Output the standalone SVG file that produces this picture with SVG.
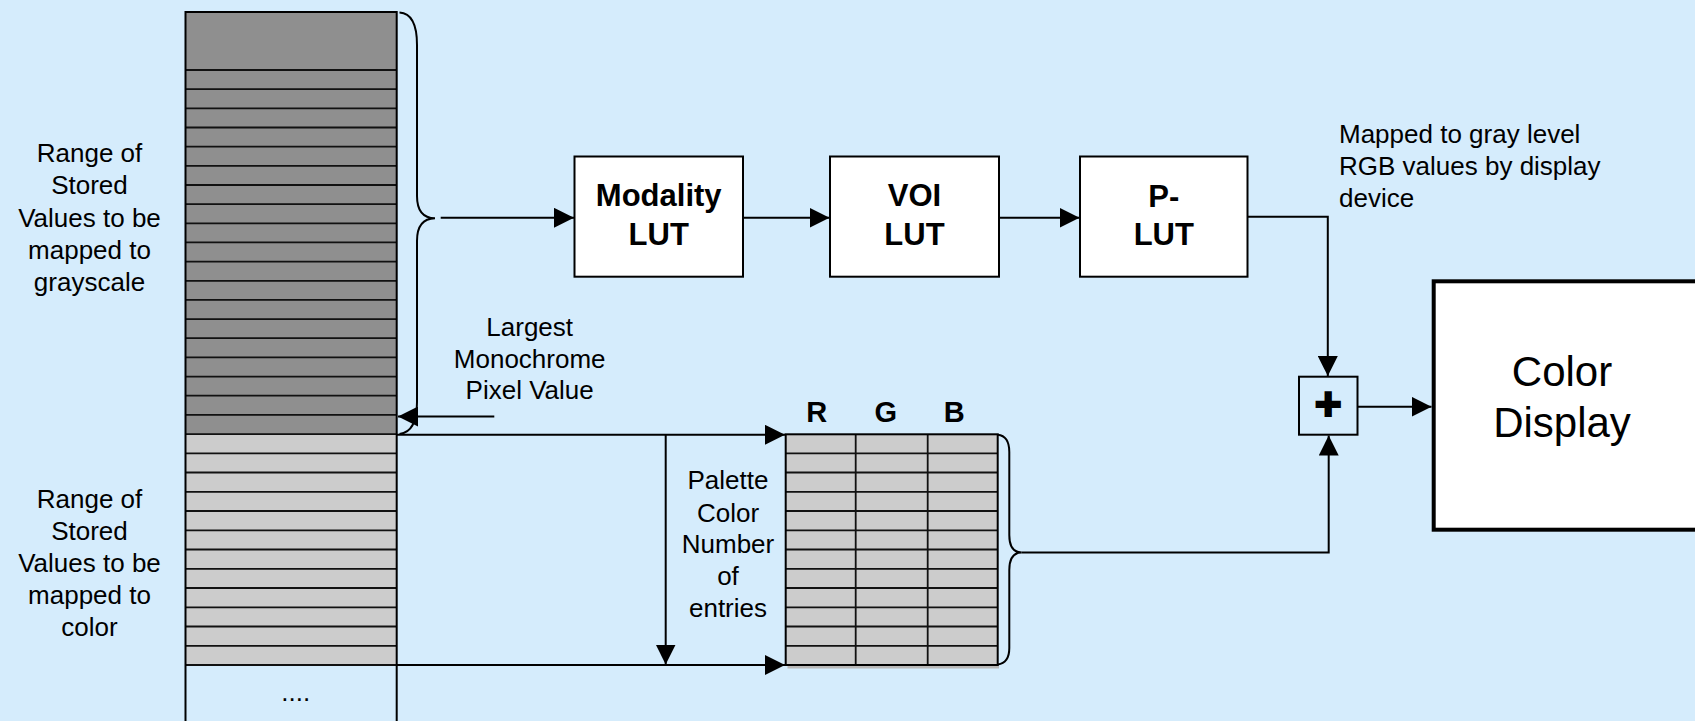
<svg xmlns="http://www.w3.org/2000/svg" width="1695" height="721" viewBox="0 0 1695 721">
<defs>
<style>
.t{font-family:"Liberation Sans",Arial,sans-serif;font-size:26px;fill:#000;text-anchor:middle}
.b{font-family:"Liberation Sans",Arial,sans-serif;font-size:31px;font-weight:bold;fill:#000;text-anchor:middle}
.box{fill:#fff;stroke:#000;stroke-width:2}
.ln{fill:none;stroke:#000;stroke-width:2}
.rl{fill:none;stroke:#111;stroke-width:1.8}
</style>
<marker id="ah" markerUnits="userSpaceOnUse" markerWidth="20" markerHeight="20" refX="20" refY="10" orient="auto">
<path d="M0,0 L20,10 L0,20 Z" fill="#000"/>
</marker>
</defs>
<rect x="0" y="0" width="1695" height="721" fill="#D5ECFC"/>

<g id="stored-values-column">
<rect x="185.5" y="12" width="211.2" height="422" fill="#8f8f8f"/>
<rect x="185.5" y="434" width="211.2" height="231" fill="#cccccc"/>
<path class="rl" d="M185.5,70H396.7M185.5,89.2H396.7M185.5,108.3H396.7M185.5,127.5H396.7M185.5,146.6H396.7M185.5,165.8H396.7M185.5,185H396.7M185.5,204.1H396.7M185.5,223.3H396.7M185.5,242.4H396.7M185.5,261.6H396.7M185.5,280.8H396.7M185.5,299.9H396.7M185.5,319.1H396.7M185.5,338.2H396.7M185.5,357.4H396.7M185.5,376.6H396.7M185.5,395.7H396.7M185.5,414.9H396.7M185.5,434.2H396.7M185.5,453.3H396.7M185.5,472.5H396.7M185.5,491.8H396.7M185.5,511H396.7M185.5,530.3H396.7M185.5,549.5H396.7M185.5,568.8H396.7M185.5,588H396.7M185.5,607.3H396.7M185.5,626.5H396.7M185.5,645.8H396.7M185.5,665H396.7"/>
<path class="ln" d="M185.5,721V12H396.7V721"/>
<text class="t" x="295.7" y="701">....</text>
</g>

<g id="label-grayscale">
<text class="t" x="89.5" y="162.3">Range of</text>
<text class="t" x="89.5" y="194.3">Stored</text>
<text class="t" x="89.5" y="226.5">Values to be</text>
<text class="t" x="89.5" y="258.7">mapped to</text>
<text class="t" x="89.5" y="290.5">grayscale</text>
</g>

<g id="label-color">
<text class="t" x="89.5" y="508.3">Range of</text>
<text class="t" x="89.5" y="540.2">Stored</text>
<text class="t" x="89.5" y="572.3">Values to be</text>
<text class="t" x="89.5" y="604.3">mapped to</text>
<text class="t" x="89.5" y="636">color</text>
</g>

<g id="label-largest">
<text class="t" x="529.7" y="335.7">Largest</text>
<text class="t" x="529.7" y="367.7">Monochrome</text>
<text class="t" x="529.7" y="399.3">Pixel Value</text>
</g>

<g id="modality-lut">
<rect class="box" x="574.5" y="156.5" width="168.5" height="120.2"/>
<text class="b" x="658.7" y="206">Modality</text>
<text class="b" x="658.7" y="244.5">LUT</text>
</g>

<g id="voi-lut">
<rect class="box" x="830" y="156.5" width="169" height="120.2"/>
<text class="b" x="914.5" y="206">VOI</text>
<text class="b" x="914.5" y="244.5">LUT</text>
</g>

<g id="p-lut">
<rect class="box" x="1080" y="156.5" width="167.5" height="120.2"/>
<text class="b" x="1163.8" y="206.5">P-</text>
<text class="b" x="1163.8" y="245">LUT</text>
</g>

<g id="label-mapped">
<text class="t" x="1339" y="143.3" style="text-anchor:start">Mapped to gray level</text>
<text class="t" x="1339" y="175" style="text-anchor:start">RGB values by display</text>
<text class="t" x="1339" y="206.7" style="text-anchor:start">device</text>
</g>

<g id="palette-table">
<rect x="787.5" y="665" width="211.5" height="3.5" fill="#b8b8b8"/>
<rect x="785.7" y="434.3" width="212" height="230.7" fill="#cccccc"/>
<path class="rl" d="M785.7,453.3H997.7M785.7,472.5H997.7M785.7,491.8H997.7M785.7,511H997.7M785.7,530.3H997.7M785.7,549.5H997.7M785.7,568.8H997.7M785.7,588H997.7M785.7,607.3H997.7M785.7,626.5H997.7M785.7,645.8H997.7M855.7,434.3V665M927.7,434.3V665"/>
<rect x="785.7" y="434.3" width="212" height="230.7" class="ln"/>
<text class="b" x="816.7" y="421.7" style="font-size:29px">R</text>
<text class="b" x="885.7" y="421.7" style="font-size:29px">G</text>
<text class="b" x="954.3" y="421.7" style="font-size:29px">B</text>
</g>

<g id="label-palette">
<text class="t" x="728" y="489.3">Palette</text>
<text class="t" x="728" y="521.5">Color</text>
<text class="t" x="728" y="553.3">Number</text>
<text class="t" x="728" y="585">of</text>
<text class="t" x="728" y="617.3">entries</text>
</g>

<g id="plus-node">
<rect x="1299" y="376.7" width="58.5" height="58" fill="none" stroke="#000" stroke-width="2"/>
<text x="1328.2" y="419.5" style="font-family:'Liberation Sans',Arial,sans-serif;font-size:46px;font-weight:bold;text-anchor:middle;fill:#000;stroke:#000;stroke-width:2.2">+</text>
</g>

<g id="color-display">
<rect x="1433.7" y="281.3" width="270" height="248.4" fill="#fff" stroke="#000" stroke-width="4"/>
<text class="t" x="1562" y="386" style="font-size:42px">Color</text>
<text class="t" x="1562" y="436.7" style="font-size:42px">Display</text>
</g>

<g id="connectors">
<path class="ln" d="M399.5,12.5 Q417,13.5 417,45 L417,196 Q417,218 435,218.3 Q417,218.6 417,241 L417,402 Q417,432 399.5,434"/>
<line class="ln" x1="440.7" y1="217.8" x2="574" y2="217.8" marker-end="url(#ah)"/>
<line class="ln" x1="743" y1="217.8" x2="829.5" y2="217.8" marker-end="url(#ah)"/>
<line class="ln" x1="999" y1="217.8" x2="1079.5" y2="217.8" marker-end="url(#ah)"/>
<path class="ln" d="M1247.5,216.7H1327.8V376" marker-end="url(#ah)"/>
<line class="ln" x1="494.3" y1="416.5" x2="398" y2="416.5" marker-end="url(#ah)"/>
<line class="ln" x1="396.7" y1="434.8" x2="785" y2="434.8" marker-end="url(#ah)"/>
<line class="ln" x1="396.7" y1="665" x2="785" y2="665" marker-end="url(#ah)"/>
<line class="ln" x1="665.7" y1="434.8" x2="665.7" y2="664.5" marker-end="url(#ah)"/>
<path class="ln" d="M997.7,434.8 Q1009.3,436 1009.3,452 L1009.3,535 Q1009.3,552.5 1021.7,552.5 Q1009.3,552.5 1009.3,570 L1009.3,648 Q1009.3,663 997.7,664.5"/>
<path class="ln" d="M1021.7,552.4H1328.7V435.5" marker-end="url(#ah)"/>
<line class="ln" x1="1357.5" y1="406.7" x2="1431.5" y2="406.7" marker-end="url(#ah)"/>
</g>
</svg>
